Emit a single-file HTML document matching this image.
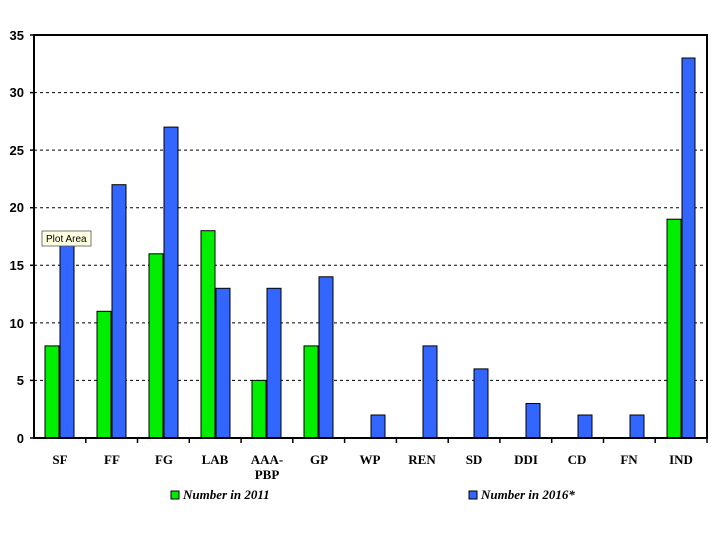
<!DOCTYPE html>
<html><head><meta charset="utf-8"><style>
body{margin:0;background:#fff;}
svg text{font-family:"Liberation Serif",serif;font-weight:bold;}
</style></head><body>
<svg width="720" height="540" xmlns="http://www.w3.org/2000/svg">
<rect width="720" height="540" fill="#fff"/>
<g stroke="#000" stroke-width="1" stroke-dasharray="3,3">
<line x1="34" x2="707" y1="380.4" y2="380.4"/>
<line x1="34" x2="707" y1="322.9" y2="322.9"/>
<line x1="34" x2="707" y1="265.3" y2="265.3"/>
<line x1="34" x2="707" y1="207.7" y2="207.7"/>
<line x1="34" x2="707" y1="150.1" y2="150.1"/>
<line x1="34" x2="707" y1="92.6" y2="92.6"/>
</g>
<g stroke="#000" stroke-width="1">
<rect x="45" y="345.9" width="14" height="92.1" fill="#00ee00"/>
<rect x="60" y="242.3" width="14" height="195.7" fill="#3366ff"/>
<rect x="97" y="311.3" width="14" height="126.7" fill="#00ee00"/>
<rect x="112" y="184.7" width="14" height="253.3" fill="#3366ff"/>
<rect x="149" y="253.8" width="14" height="184.2" fill="#00ee00"/>
<rect x="164" y="127.1" width="14" height="310.9" fill="#3366ff"/>
<rect x="201" y="230.7" width="14" height="207.3" fill="#00ee00"/>
<rect x="216" y="288.3" width="14" height="149.7" fill="#3366ff"/>
<rect x="252" y="380.4" width="14" height="57.6" fill="#00ee00"/>
<rect x="267" y="288.3" width="14" height="149.7" fill="#3366ff"/>
<rect x="304" y="345.9" width="14" height="92.1" fill="#00ee00"/>
<rect x="319" y="276.8" width="14" height="161.2" fill="#3366ff"/>
<rect x="371" y="415" width="14" height="23" fill="#3366ff"/>
<rect x="423" y="345.9" width="14" height="92.1" fill="#3366ff"/>
<rect x="474" y="368.9" width="14" height="69.1" fill="#3366ff"/>
<rect x="526" y="403.5" width="14" height="34.5" fill="#3366ff"/>
<rect x="578" y="415" width="14" height="23" fill="#3366ff"/>
<rect x="630" y="415" width="14" height="23" fill="#3366ff"/>
<rect x="667" y="219.2" width="14" height="218.8" fill="#00ee00"/>
<rect x="682" y="58" width="13" height="380" fill="#3366ff"/>
</g>
<rect x="34" y="35" width="673" height="403" fill="none" stroke="#000" stroke-width="2"/>
<g stroke="#000" stroke-width="1.5">
<line x1="30" x2="34" y1="438" y2="438"/><line x1="30" x2="34" y1="380.4" y2="380.4"/><line x1="30" x2="34" y1="322.9" y2="322.9"/><line x1="30" x2="34" y1="265.3" y2="265.3"/><line x1="30" x2="34" y1="207.7" y2="207.7"/><line x1="30" x2="34" y1="150.1" y2="150.1"/><line x1="30" x2="34" y1="92.6" y2="92.6"/><line x1="30" x2="34" y1="35" y2="35"/>
<line x1="85.8" x2="85.8" y1="438" y2="443"/><line x1="137.5" x2="137.5" y1="438" y2="443"/><line x1="189.3" x2="189.3" y1="438" y2="443"/><line x1="241.1" x2="241.1" y1="438" y2="443"/><line x1="292.8" x2="292.8" y1="438" y2="443"/><line x1="344.6" x2="344.6" y1="438" y2="443"/><line x1="396.4" x2="396.4" y1="438" y2="443"/><line x1="448.2" x2="448.2" y1="438" y2="443"/><line x1="499.9" x2="499.9" y1="438" y2="443"/><line x1="551.7" x2="551.7" y1="438" y2="443"/><line x1="603.5" x2="603.5" y1="438" y2="443"/><line x1="655.2" x2="655.2" y1="438" y2="443"/><line x1="707" x2="707" y1="438" y2="443"/>
</g>
<g font-size="13" text-anchor="end" font-family="Liberation Sans, sans-serif">
<text x="24" y="443" style="font-family:'Liberation Sans',sans-serif">0</text>
<text x="24" y="385" style="font-family:'Liberation Sans',sans-serif">5</text>
<text x="24" y="328" style="font-family:'Liberation Sans',sans-serif">10</text>
<text x="24" y="270" style="font-family:'Liberation Sans',sans-serif">15</text>
<text x="24" y="212" style="font-family:'Liberation Sans',sans-serif">20</text>
<text x="24" y="155" style="font-family:'Liberation Sans',sans-serif">25</text>
<text x="24" y="97" style="font-family:'Liberation Sans',sans-serif">30</text>
<text x="24" y="40" style="font-family:'Liberation Sans',sans-serif">35</text>
</g>
<g font-size="13" text-anchor="middle">
<text x="60" y="464">SF</text><text x="112" y="464">FF</text><text x="164" y="464">FG</text><text x="215" y="464">LAB</text>
<text x="267" y="464">AAA-</text><text x="267" y="479">PBP</text>
<text x="319" y="464">GP</text><text x="370" y="464">WP</text><text x="422" y="464">REN</text><text x="474" y="464">SD</text><text x="526" y="464">DDI</text><text x="577" y="464">CD</text><text x="629" y="464">FN</text><text x="681" y="464">IND</text>
</g>
<rect x="171" y="491" width="8" height="8" fill="#00ee00" stroke="#000"/>
<text x="183" y="499" font-size="13" font-style="italic">Number in 2011</text>
<rect x="469" y="491" width="8" height="8" fill="#3366ff" stroke="#000"/>
<text x="481" y="499" font-size="13" font-style="italic">Number in 2016*</text>
<rect x="42" y="231" width="49" height="15" fill="#ffffe1" stroke="#555" stroke-width="0.8"/>
<text x="46" y="242" font-size="10" style="font-family:'Liberation Sans',sans-serif;font-weight:normal">Plot Area</text>
</svg>
</body></html>
